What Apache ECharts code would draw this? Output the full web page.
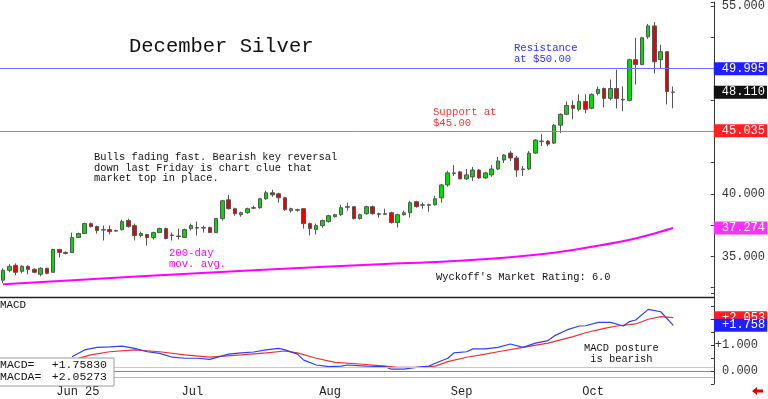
<!DOCTYPE html>
<html>
<head>
<meta charset="utf-8">
<script src="https://cdn.jsdelivr.net/npm/echarts@6/dist/echarts.min.js"></script>
<style>
html, body { margin: 0; padding: 0; background: #fff; }
#chart { width: 768px; height: 399px; }
</style>
</head>
<body>
<div id="chart"></div>
<script>
// trading days, May 20 2025 .. Oct 22 2025, plus empty room on the right
var firstDay = '2025-05-20';
var holidays = ['2025-05-26', '2025-06-19', '2025-07-04', '2025-09-01'];
var slotCount = 114;
var monthNames = ['Jan','Feb','Mar','Apr','May','Jun','Jul','Aug','Sep','Oct','Nov','Dec'];

// daily candles: [open, close, low, high]
var candles = [
  [33.10,33.89,32.86,34.05],[33.89,34.21,33.73,34.37],[34.29,33.73,33.49,34.44],[33.81,34.21,33.65,34.29],
  [34.21,33.97,33.57,34.29],[33.97,33.73,33.65,34.05],[33.57,34.05,33.41,34.13],[34.05,33.65,33.57,34.09],
  [33.73,35.56,33.70,35.60],[35.56,35.32,34.92,35.60],[35.32,35.24,35.16,35.40],[35.30,36.51,35.28,36.90],
  [36.51,36.83,36.48,36.90],[36.83,37.62,36.80,37.70],[37.62,37.38,37.30,37.70],[37.38,37.06,36.83,37.46],
  [37.14,37.10,36.27,37.46],[37.14,36.98,36.75,37.46],[37.06,37.02,36.98,37.14],[37.14,37.78,37.06,37.94],
  [37.86,37.38,37.30,38.02],[37.46,36.67,36.27,37.62],[36.67,36.83,36.51,36.98],[36.75,36.51,35.87,36.78],
  [36.51,36.90,36.35,36.98],[36.90,37.22,36.87,37.30],[37.22,36.43,36.35,37.30],[36.67,36.71,36.27,36.90],
  [36.63,36.59,36.35,37.22],[36.51,37.14,36.48,37.22],[37.22,37.46,37.06,37.62],[37.30,37.26,36.67,37.78],
  [37.30,37.26,36.90,37.46],[37.30,36.90,36.87,37.38],[36.90,38.02,36.87,38.05],[38.02,39.44,37.86,39.52],
  [39.52,38.81,38.73,39.92],[38.81,38.41,38.25,38.89],[38.33,38.49,38.17,38.57],[38.49,38.81,38.41,38.89],
  [38.89,38.85,38.81,39.05],[38.89,39.60,38.81,39.68],[39.60,40.08,39.52,40.24],[40.08,39.92,39.76,40.32],
  [40.00,39.68,39.29,40.08],[39.68,38.73,38.65,39.76],[38.65,38.81,38.49,38.89],[38.69,38.73,38.57,38.81],
  [38.81,37.62,37.22,38.85],[37.62,37.22,36.67,37.70],[37.14,37.46,36.75,37.62],[37.46,37.86,37.30,37.94],
  [37.78,38.25,37.70,38.33],[38.17,38.33,38.10,38.41],[38.33,38.89,38.25,39.13],[38.97,38.93,38.65,39.29],
  [38.97,38.02,37.94,39.00],[38.02,38.33,37.94,38.41],[38.41,38.97,38.33,39.05],[38.97,38.41,38.33,39.05],
  [38.41,38.37,38.10,38.49],[38.37,38.41,38.33,38.81],[38.49,37.70,37.62,38.57],[37.70,38.33,37.30,38.41],
  [38.33,38.49,38.25,38.65],[38.49,39.29,38.10,39.44],[39.37,38.97,38.89,39.44],[39.09,39.13,38.81,39.29],
  [39.13,39.09,38.57,39.21],[39.13,39.60,39.05,39.84],[39.68,40.71,39.29,40.79],[40.71,41.67,40.56,41.83],
  [41.63,41.67,41.43,42.30],[41.75,41.19,41.16,41.83],[41.19,41.51,41.11,41.98],[41.35,41.90,41.03,42.14],
  [41.90,41.27,41.19,41.98],[41.27,41.67,41.19,41.75],[41.51,41.98,41.35,42.30],[41.98,42.62,41.90,42.94],
  [42.70,43.10,42.46,43.17],[43.25,42.86,42.62,43.41],[42.86,41.90,41.35,43.02],[41.94,41.98,41.43,42.22],
  [41.98,43.25,41.90,43.41],[43.25,44.29,43.17,44.37],[44.21,44.17,43.81,44.76],[44.21,43.97,43.81,44.29],
  [44.05,45.48,43.97,45.56],[45.48,46.35,44.84,46.43],[46.35,47.06,46.27,47.38],[47.06,46.83,45.95,47.46],
  [46.75,47.38,46.59,47.94],[47.38,46.75,46.43,47.94],[46.83,47.94,46.75,48.02],[48.02,48.33,47.86,48.57],
  [48.41,47.62,46.90,48.49],[47.62,48.41,47.46,49.13],[48.41,47.62,46.83,49.92],[47.54,47.50,46.59,48.57],
  [47.46,50.71,47.38,50.79],[50.71,50.32,48.73,52.46],[50.32,52.46,50.28,52.54],[52.54,53.41,52.38,53.57],
  [53.41,50.55,49.60,53.73],[50.71,51.35,50.00,51.90],[51.35,48.17,47.14,51.38],[48.13,48.11,46.83,48.57]
];

// 200-day moving average, read at a few days: [dayIndex, value]
var ma200 = [[0,32.78],[22,33.41],[40,33.89],[61,34.40],[70,34.58],[80,34.90],[88,35.30],[95,35.85],[101,36.43],[107,37.27]];

// MACD (blue) and its signal line (red): [dayIndex, value]
var macdLine = [
  [11,0.55],[13,0.81],[15,0.91],[17,0.93],[19,0.96],[21,0.87],[23,0.74],[25,0.68],[27,0.53],[29,0.49],
  [31,0.49],[33,0.45],[36,0.65],[38,0.70],[40,0.73],[42,0.81],[44,0.87],[45,0.81],[47,0.65],[48,0.42],
  [50,0.23],[52,0.17],[54,0.19],[55,0.23],[58,0.19],[61,0.17],[62,0.07],[64,0.07],[66,0.14],[68,0.19],
  [69,0.30],[71,0.49],[72,0.70],[74,0.74],[75,0.85],[77,0.85],[79,0.91],[81,1.04],[83,0.91],[85,1.07],
  [87,1.17],[88,1.35],[90,1.58],[92,1.73],[93,1.74],[95,1.87],[97,1.87],[99,1.73],[100,1.90],[101,1.96],
  [103,2.37],[105,2.28],[107,1.758]
];
var signalLine = [
  [11,0.42],[14,0.62],[17,0.74],[21,0.81],[25,0.74],[29,0.62],[33,0.53],[38,0.62],[42,0.70],[45,0.77],
  [47,0.70],[50,0.49],[53,0.33],[57,0.27],[61,0.19],[63,0.14],[66,0.14],[69,0.19],[71,0.36],[74,0.53],
  [77,0.65],[79,0.74],[83,0.91],[87,1.07],[91,1.32],[93,1.47],[96,1.64],[98,1.73],[101,1.81],[103,1.99],
  [105,2.09],[107,2.053]
];

var resistance = 49.995;
var support = 45.035;
var lastPrice = 48.110;
var maLast = 37.274;
var priceTickLabels = [35, 40, 55];

function buildDays(start, n) {
  var out = [];
  var d = new Date(start + 'T00:00:00Z');
  while (out.length < n) {
    var iso = d.toISOString().slice(0, 10);
    var wd = d.getUTCDay();
    if (wd !== 0 && wd !== 6 && holidays.indexOf(iso) < 0) out.push(iso);
    d.setUTCDate(d.getUTCDate() + 1);
  }
  return out;
}
var days = buildDays(firstDay, slotCount);
var monthLabels = {};
var seenFirst = false;
for (var i = 1; i < days.length; i++) {
  if (days[i].slice(5, 7) !== days[i - 1].slice(5, 7)) {
    var m = monthNames[parseInt(days[i].slice(5, 7), 10) - 1];
    monthLabels[i] = seenFirst ? m : m + ' ' + days[i].slice(2, 4);
    seenFirst = true;
  }
}
// only months that have candles get a label
Object.keys(monthLabels).forEach(function (k) { if (+k >= candles.length) delete monthLabels[k]; });

var mono = 'Liberation Mono';
function boxLabel(text, bg) {
  return {
    show: true, position: 'end', distance: 0, formatter: text,
    color: '#fff', backgroundColor: bg, fontFamily: mono, fontSize: 12,
    padding: [1, 2, 0, 8], lineHeight: 12
  };
}
function note(x, y, text, color, size) {
  return {
    type: 'text', x: x, y: y, z: 50,
    style: { text: text, fill: color || '#111', font: (size || 10.4) + 'px ' + mono, verticalAlign: 'top', lineHeight: 10.6 }
  };
}
function boxText(x, y, text, align) {
  return { type: 'text', x: x, y: y, z: 91, style: { text: text, fill: '#111', font: '11.5px ' + mono, verticalAlign: 'middle', align: align || 'left' } };
}

var chart = echarts.init(document.getElementById('chart'));
var option = {
  animation: false,
  backgroundColor: '#fff',
  grid: [
    { left: 0, right: 54, top: 0, height: 319 },
    { left: 0, right: 54, top: 293, height: 91 }
  ],
  xAxis: [
    { gridIndex: 0, type: 'category', data: days, show: false },
    {
      gridIndex: 1, type: 'category', data: days,
      axisLine: { lineStyle: { color: '#888', width: 1 } },
      axisTick: {
        alignWithLabel: true, length: 13, lineStyle: { color: '#777' },
        interval: function (idx) { return monthLabels[idx] !== undefined; }
      },
      axisLabel: {
        interval: function (idx) { return monthLabels[idx] !== undefined; },
        formatter: function (v, idx) { return monthLabels[idx] || ''; },
        align: 'left', margin: 2, padding: [0, 0, 0, 3],
        color: '#222', fontFamily: mono, fontSize: 12
      }
    }
  ],
  yAxis: [
    {
      gridIndex: 0, type: 'value', position: 'right', min: 30, max: 55.317, interval: 2.5,
      axisLine: { show: true, lineStyle: { color: '#333' } },
      axisTick: { show: true, inside: true, length: 3, lineStyle: { color: '#333' } },
      splitLine: { show: false },
      axisLabel: {
        margin: 8, color: '#333', fontFamily: mono, fontSize: 12, showMaxLabel: true,
        formatter: function (v) { return priceTickLabels.indexOf(v) >= 0 ? v.toFixed(3) : ''; }
      }
    },
    {
      gridIndex: 1, type: 'value', position: 'right', min: -0.5, max: 3, interval: 0.5,
      axisLine: { show: true, lineStyle: { color: '#333' } },
      axisTick: { show: true, inside: true, length: 3, lineStyle: { color: '#333' } },
      splitLine: { show: false },
      axisLabel: {
        margin: 44, align: 'right', color: '#333', fontFamily: mono, fontSize: 12,
        formatter: function (v) {
          if (Math.abs(v) < 1e-6) return '0.000';
          if (Math.abs(v - 1) < 1e-6) return '+1.000';
          return '';
        }
      }
    }
  ],
  series: [
    {
      type: 'candlestick', xAxisIndex: 0, yAxisIndex: 0, data: candles, barWidth: 4,
      itemStyle: { color: '#00dd00', color0: '#ee0000', borderColor: '#555', borderColor0: '#555', borderWidth: 1 },
      markLine: {
        silent: true, symbol: 'none',
        data: [
          { yAxis: resistance, lineStyle: { color: '#6f6fff', width: 1, type: 'solid' }, label: boxLabel('49.995', '#2020ff') },
          { yAxis: support, lineStyle: { color: '#ff6060', width: 1, type: 'solid' }, label: boxLabel('45.035', '#ff2020') },
          { yAxis: lastPrice, lineStyle: { color: 'rgba(0,0,0,0)', width: 0 }, label: boxLabel('48.110', '#111') }
        ]
      }
    },
    {
      type: 'line', xAxisIndex: 0, yAxisIndex: 0, data: ma200, smooth: 0.3, symbol: 'none',
      lineStyle: { color: '#ff00ff', width: 2 },
      markLine: {
        silent: true, symbol: 'none',
        data: [{ yAxis: maLast, lineStyle: { color: 'rgba(0,0,0,0)', width: 0 }, label: boxLabel('37.274', '#ff30ff') }]
      }
    },
    {
      type: 'line', xAxisIndex: 1, yAxisIndex: 1, data: signalLine, symbol: 'none',
      lineStyle: { color: '#ee3030', width: 1.2 },
      markLine: {
        silent: true, symbol: 'none',
        data: [
          { yAxis: 0.14, lineStyle: { color: '#ffb0b0', width: 1, type: 'solid' }, label: { show: false } },
          { yAxis: 2.053, lineStyle: { color: 'rgba(0,0,0,0)', width: 0 }, label: boxLabel('+2.053', '#ff2020') }
        ]
      }
    },
    {
      type: 'line', xAxisIndex: 1, yAxisIndex: 1, data: macdLine, symbol: 'none',
      lineStyle: { color: '#2f3fee', width: 1.2 },
      markLine: {
        silent: true, symbol: 'none',
        data: [
          { yAxis: -0.24, lineStyle: { color: '#b0b0ff', width: 1, type: 'solid' }, label: { show: false } },
          { yAxis: 1.758, lineStyle: { color: 'rgba(0,0,0,0)', width: 0 }, label: boxLabel('+1.758', '#2020ff') }
        ]
      }
    }
  ],
  graphic: [
    { type: 'line', z: 60, shape: { x1: 0, y1: 297.5, x2: 714, y2: 297.5 }, style: { stroke: '#222', lineWidth: 1.5 } },
    { type: 'text', x: 129, y: 36, z: 50, style: { text: 'December Silver', fill: '#111', font: '20.5px ' + mono, verticalAlign: 'top' } },
    note(514, 43, 'Resistance\nat $50.00', '#3030ff', 10.6),
    note(433, 107, 'Support at\n$45.00', '#ff3030', 10.6),
    note(94, 152, 'Bulls fading fast. Bearish key reversal\ndown last Friday is chart clue that\nmarket top in place.'),
    note(169, 248, '200-day\nmov. avg.', '#ff00ff', 10.6),
    note(436, 272, "Wyckoff's Market Rating: 6.0"),
    note(584, 343, 'MACD posture\n is bearish'),
    note(0, 300, 'MACD', '#111', 10.8),
    { type: 'rect', z: 90, shape: { x: -1, y: 358, width: 115, height: 28 }, style: { fill: '#fff', stroke: '#999', lineWidth: 1 } },
    boxText(0, 365, 'MACD='),
    boxText(107, 365, '+1.75830', 'right'),
    boxText(0, 377, 'MACDA='),
    boxText(107, 377, '+2.05273', 'right'),
    { type: 'polygon', z: 60, shape: { points: [[752, 391], [757, 387], [757, 389.5], [763, 389.5], [763, 392.5], [757, 392.5], [757, 395]] }, style: { fill: '#e00000' } }
  ]
};
chart.setOption(option);
window.addEventListener('resize', function () { chart.resize(); });
</script>
</body>
</html>
